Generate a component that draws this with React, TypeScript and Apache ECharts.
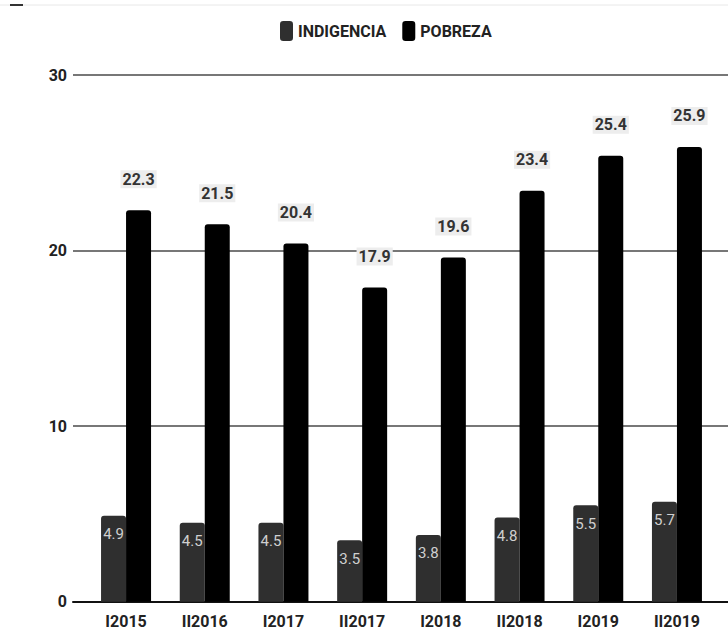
import React, { useEffect, useRef } from "react";
import * as echarts from "echarts";

const categories = ["I2015", "II2016", "I2017", "II2017", "I2018", "II2018", "I2019", "II2019"];
const indigencia = [4.9, 4.5, 4.5, 3.5, 3.8, 4.8, 5.5, 5.7];
const pobreza = [22.3, 21.5, 20.4, 17.9, 19.6, 23.4, 25.4, 25.9];
const yTicks = { min: 0, max: 30, interval: 10 };

const FONT = "Roboto, 'Liberation Sans', sans-serif";

export default function App() {
  const ref = useRef<HTMLDivElement>(null);

  useEffect(() => {
    if (!ref.current) return;
    const chart = echarts.init(ref.current, undefined, { renderer: "svg" });
    chart.setOption({
      animation: false,
      backgroundColor: "#ffffff",
      textStyle: { fontFamily: FONT },
      legend: {
        left: 275,
        top: 16,
        icon: "roundRect",
        itemWidth: 13,
        itemHeight: 20,
        itemGap: 16,
        textStyle: { fontFamily: FONT, fontSize: 16, fontWeight: "bold", color: "#222" },
        data: ["INDIGENCIA", "POBREZA"],
      },
      grid: [
        { left: 73, right: 0, top: 75, bottom: 31.3 },
        { left: 86.7, right: 11.7, top: 75, bottom: 31.3 },
      ],
      xAxis: [
        {
          gridIndex: 0,
          type: "value",
          min: 0,
          max: 1,
          axisLine: { show: true, lineStyle: { color: "#111", width: 2 } },
          axisTick: { show: false },
          axisLabel: { show: false },
          splitLine: { show: false },
        },
        {
          gridIndex: 1,
          type: "category",
          data: categories,
          axisLine: { show: false },
          axisTick: { show: false },
          axisLabel: {
            interval: 0,
            margin: 12,
            fontFamily: FONT,
            fontSize: 16,
            fontWeight: "bold",
            color: "#222",
          },
        },
      ],
      yAxis: [
        {
          gridIndex: 0,
          type: "value",
          ...yTicks,
          axisLine: { show: false },
          axisTick: { show: false },
          axisLabel: {
            margin: 6,
            fontFamily: FONT,
            fontSize: 16,
            fontWeight: "bold",
            color: "#222",
          },
          splitLine: { lineStyle: { color: "#777", width: 2 } },
        },
        {
          gridIndex: 1,
          type: "value",
          ...yTicks,
          show: false,
          splitLine: { show: false },
        },
      ],
      series: [
        {
          name: "INDIGENCIA",
          type: "bar",
          xAxisIndex: 1,
          yAxisIndex: 1,
          data: indigencia,
          barWidth: 25,
          barGap: "0%",
          itemStyle: { color: "#2f2f2f", borderRadius: [3, 3, 0, 0] },
          label: {
            show: true,
            position: "insideTop",
            distance: 11,
            fontFamily: FONT,
            fontSize: 15,
            color: "#d0d0d0",
          },
        },
        {
          name: "POBREZA",
          type: "bar",
          xAxisIndex: 1,
          yAxisIndex: 1,
          data: pobreza,
          barWidth: 25,
          barGap: "0%",
          itemStyle: { color: "#000000", borderRadius: [3, 3, 0, 0] },
          label: {
            show: true,
            position: "top",
            distance: 22,
            fontFamily: FONT,
            fontSize: 16,
            fontWeight: "bold",
            color: "#333",
            backgroundColor: "#ededed",
            padding: [1, 2],
          },
        },
      ],
      graphic: [
        {
          type: "line",
          shape: { x1: 0, y1: 5, x2: 728, y2: 5 },
          style: { stroke: "#e8e8e8", lineWidth: 1 },
        },
        {
          type: "rect",
          shape: { x: 10, y: 4, width: 13, height: 2 },
          style: { fill: "#333" },
        },
      ],
    });
    return () => chart.dispose();
  }, []);

  return (
    <div
      ref={ref}
      style={{ position: "fixed", left: 0, top: 0, width: 728, height: 633 }}
    />
  );
}
